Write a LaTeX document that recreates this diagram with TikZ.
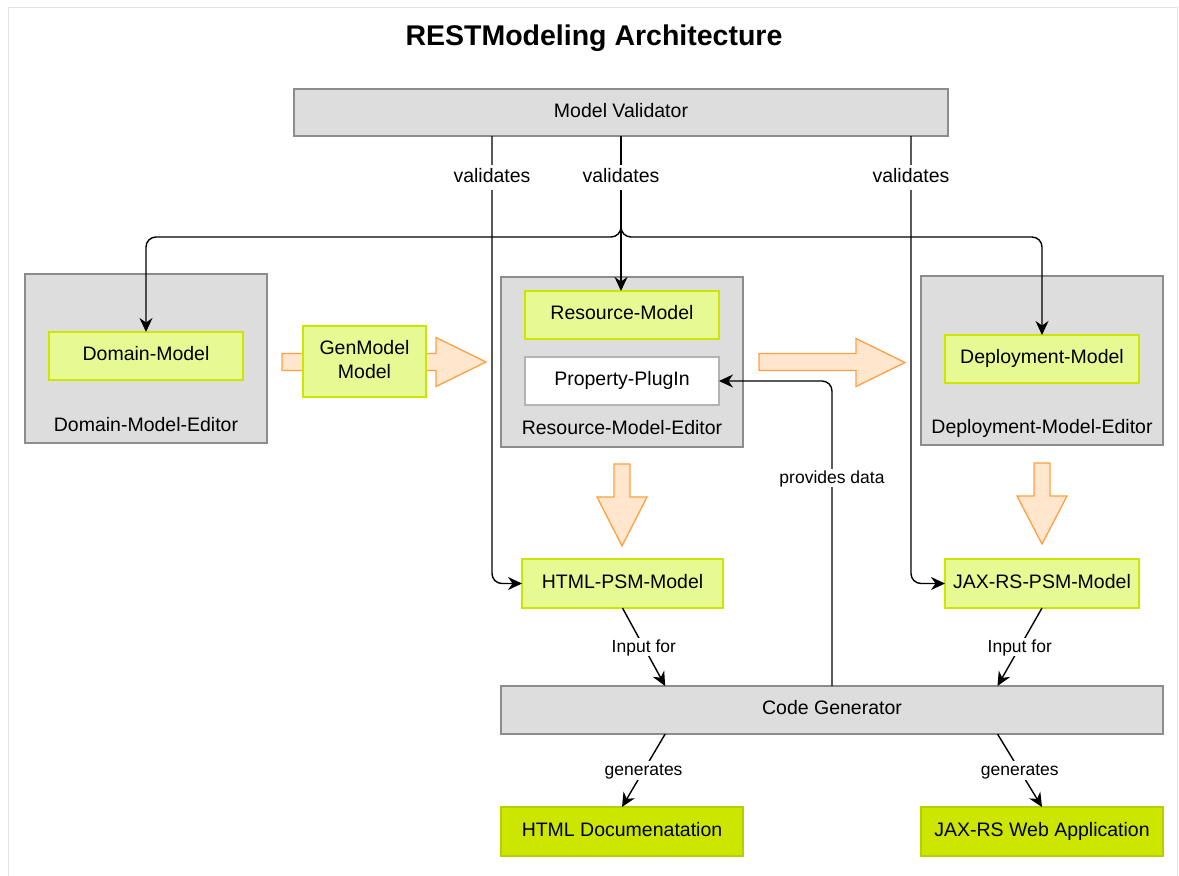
\documentclass[tikz,border=0pt]{standalone}
\usepackage{fontspec}
\setmainfont{Liberation Sans}
\usetikzlibrary{arrows.meta,calc}

\definecolor{boxgray}{HTML}{DDDDDD}
\definecolor{boxedge}{HTML}{8C8C8C}
\definecolor{modfill}{HTML}{E6F993}
\definecolor{modedge}{HTML}{CCE600}
\definecolor{outfill}{HTML}{CCE600}
\definecolor{outedge}{HTML}{B3D100}
\definecolor{plugedge}{HTML}{B3B3B3}
\definecolor{flowfill}{HTML}{FFE6CC}
\definecolor{flowedge}{HTML}{FFA040}
\definecolor{framegray}{HTML}{E3E3E3}

\newcommand\dgmboxfont{\fontsize{19.5}{24}\selectfont}
\newcommand\dgmlabfont{\fontsize{17.5}{21}\selectfont}

\begin{document}
\begin{tikzpicture}[x=1pt,y=-1pt,
  base/.style={inner sep=0pt, outer sep=0pt, line width=1.3pt, font=\dgmboxfont, align=center},
  oneline/.style={text height=14pt, text depth=4.5pt},
  editor/.style={base, draw=boxedge, fill=boxgray},
  model/.style={base, draw=modedge, fill=modfill},
  result/.style={base, draw=outedge, fill=outfill},
  plugin/.style={base, draw=plugedge, fill=white},
  caption/.style={inner sep=0pt, font=\dgmboxfont, oneline},
  vlabel/.style={fill=white, inner sep=3pt, font=\dgmboxfont, oneline},
  elabel/.style={fill=white, inner sep=2pt, font=\dgmlabfont, text height=12.5pt, text depth=2pt},
  arr/.style={line width=1.4pt, -{Stealth[length=14pt,width=13pt,inset=4.5pt]}},
  flow/.style={draw=flowedge, fill=flowfill, line width=1.3pt, line join=miter}
]
\useasboundingbox (0,0) rectangle (1179,876);

% outer frame
\draw[framegray, line width=1pt] (8,880) -- (8,7) -- (1177,7) -- (1177,880);

% title
\node[inner sep=0pt, anchor=base, font=\bfseries\fontsize{28.5}{34}\selectfont] (title) at (594,45) {RESTModeling Architecture};

% validator
\node[editor, oneline, minimum width=654pt, minimum height=47pt] (val) at (621,112.5) {Model Validator};

% editors
\node[editor, minimum width=242pt, minimum height=169pt] (dme) at (146,358.5) {};
\node[caption] (dmel) at (146,426.5) {Domain-Model-Editor};
\node[model, oneline, minimum width=194pt, minimum height=48pt] (dm) at (146,356) {Domain-Model};

\node[editor, minimum width=242pt, minimum height=170pt] (rme) at (622,362) {};
\node[caption] (rmel) at (622,429.5) {Resource-Model-Editor};
\node[model, oneline, minimum width=194pt, minimum height=48pt] (rm) at (622,315) {Resource-Model};
\node[plugin, oneline, minimum width=194pt, minimum height=48pt] (pp) at (622,381) {Property-PlugIn};

\node[editor, minimum width=242pt, minimum height=169pt] (deme) at (1042,360.5) {};
\node[caption] (demel) at (1042,428.5) {Deployment-Model-Editor};
\node[model, oneline, minimum width=194pt, minimum height=48pt] (dep) at (1042,359) {Deployment-Model};

% transformation arrows
\draw[flow] (282,353.5) -- (436,353.5) -- (436,337.5) -- (486,362) -- (436,386.5) -- (436,370.5) -- (282,370.5) -- cycle;
\draw[flow] (759,353.5) -- (856,353.5) -- (856,338.5) -- (905,362.5) -- (856,386.5) -- (856,370.5) -- (759,370.5) -- cycle;
\draw[flow] (614,464) -- (630,464) -- (630,497) -- (647,497) -- (622,546) -- (597,497) -- (614,497) -- cycle;
\draw[flow] (1034,463) -- (1050,463) -- (1050,496) -- (1067,496) -- (1042,544) -- (1017,496) -- (1034,496) -- cycle;

\node[model, minimum width=123pt, minimum height=71pt] (gen) at (364.5,361.5) {};
\node[inner sep=0pt, font=\dgmboxfont, align=center] (genl) at (364.5,359.5) {GenModel\\Model};

% platform specific models
\node[model, oneline, minimum width=201pt, minimum height=49pt] (html) at (622.5,583.5) {HTML-PSM-Model};
\node[model, oneline, minimum width=194pt, minimum height=49pt] (jax) at (1042,583.5) {JAX-RS-PSM-Model};

% generator and results
\node[editor, oneline, minimum width=662pt, minimum height=48pt] (cg) at (832,710) {Code Generator};
\node[result, oneline, minimum width=242pt, minimum height=49pt] (hdoc) at (622,831.5) {HTML Documenatation};
\node[result, oneline, minimum width=242pt, minimum height=49pt] (jweb) at (1042,831.5) {JAX-RS Web Application};

% validation connectors
\coordinate (br) at (621,237);
\coordinate (hv) at (492,583.5);
\coordinate (jv) at (911,583.5);
\draw[arr, rounded corners=10pt] (val.south) -- (br) -- (br -| dm.north) -- (dm.north);
\draw[arr, rounded corners=10pt] (val.south) -- (br) -- (br -| dep.north) -- (dep.north);
\draw[arr] (val.south) -- (val.south |- rm.north);
\draw[arr, rounded corners=10pt] (val.south -| hv) -- (hv) -- (html.west);
\draw[arr, rounded corners=10pt] (val.south -| jv) -- (jv) -- (jax.west);
\node[vlabel] (v1) at (492,177.5) {validates};
\node[vlabel] (v2) at (621,177.5) {validates};
\node[vlabel] (v3) at (911,177.5) {validates};

% data provider
\draw[arr, rounded corners=10pt] (cg.north) -- (cg.north |- pp.east) -- (pp.east);
\node[elabel] (pd) at (832,478) {provides data};

% generator inputs and outputs
\draw[arr] (html.south) -- node[elabel] (i1) {Input for} ($(cg.north west)!0.248!(cg.north east)$);
\draw[arr] (jax.south) -- node[elabel] (i2) {Input for} ($(cg.north west)!0.75!(cg.north east)$);
\draw[arr] ($(cg.south west)!0.248!(cg.south east)$) -- node[elabel] (g1) {generates} (hdoc.north);
\draw[arr] ($(cg.south west)!0.75!(cg.south east)$) -- node[elabel] (g2) {generates} (jweb.north);
\end{tikzpicture}
\end{document}
